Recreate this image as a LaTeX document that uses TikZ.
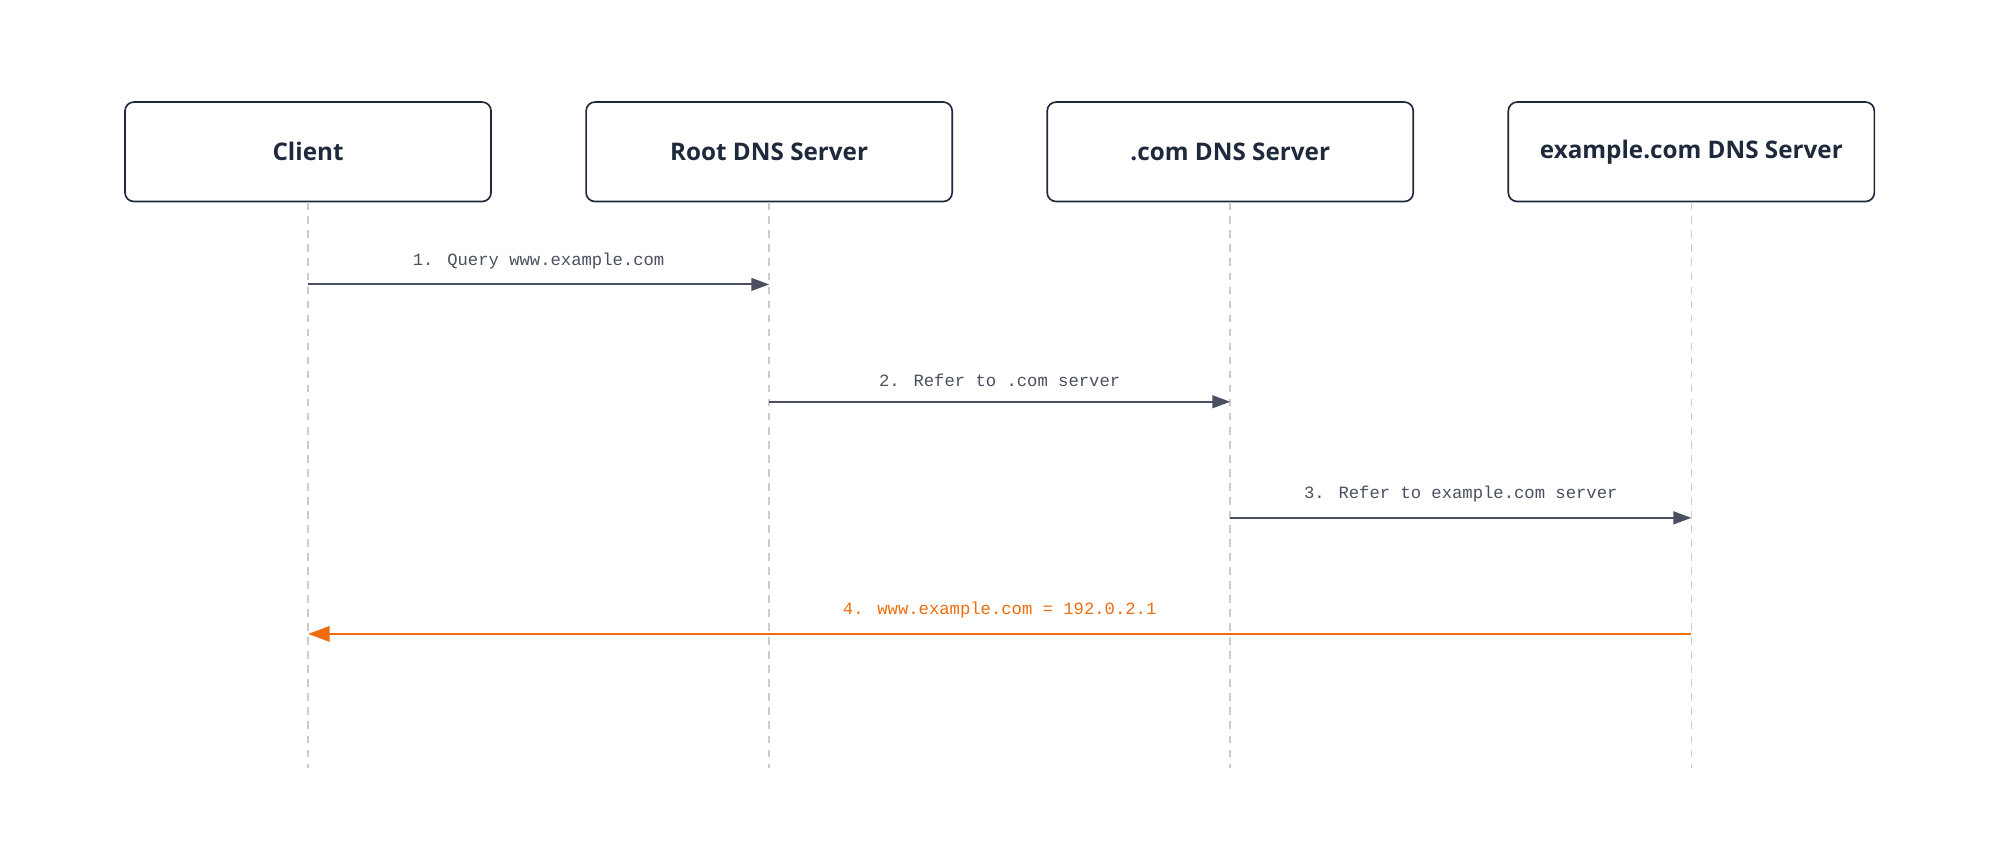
\documentclass[tikz,border=0pt]{standalone}
\usepackage{fontspec}
\setmainfont{Open Sans}
\newfontfamily\monof{Liberation Mono}
\usetikzlibrary{arrows.meta}
\definecolor{navy}{HTML}{1E293B}
\definecolor{msg}{HTML}{4B5060}
\definecolor{org}{HTML}{EE6C0C}
\definecolor{life}{HTML}{CCCCCC}
\begin{document}
\begin{tikzpicture}[x=1pt,y=-1pt,
  actor/.style={draw=navy,line width=1.3pt,rounded corners=7pt,minimum width=287pt,minimum height=78pt,fill=white,text=navy,font=\fontsize{19}{22}\selectfont\bfseries},
  lifeline/.style={draw=life,line width=1.2pt,dash pattern=on 6pt off 5pt},
  msgarr/.style={draw=msg,line width=1.5pt,-{Triangle[length=14pt,width=10pt]}},
  lbl/.style={font=\monof\fontsize{13.5}{16}\selectfont,text=msg}]
\useasboundingbox (0,0) rectangle (1568,668);
\foreach \n/\x/\t in {c/241.5/Client,r/603/Root DNS Server,m/964.5/.com DNS Server,e/1326/example.com DNS Server}{
  \node[actor] (\n) at (\x,119) {\t};
  \coordinate (\n b) at (\x,602);
  \draw[lifeline] (\n.south) -- (\n b);
  \foreach \y in {223,315,406,497}{\coordinate (\n\y) at (\x,\y);}
}
\draw[msgarr] (c223) -- node[lbl,above=8pt]{1. Query www.example.com} (r223);
\draw[msgarr] (r315) -- node[lbl,above=8pt]{2. Refer to .com server} (m315);
\draw[msgarr] (m406) -- node[lbl,above=8pt]{3. Refer to example.com server} (e406);
\draw[msgarr,draw=org,line width=2pt,-{Triangle[length=17pt,width=12pt]}] (e497) -- node[lbl,text=org,above=8pt]{4. www.example.com = 192.0.2.1} (c497);
\end{tikzpicture}
\end{document}
